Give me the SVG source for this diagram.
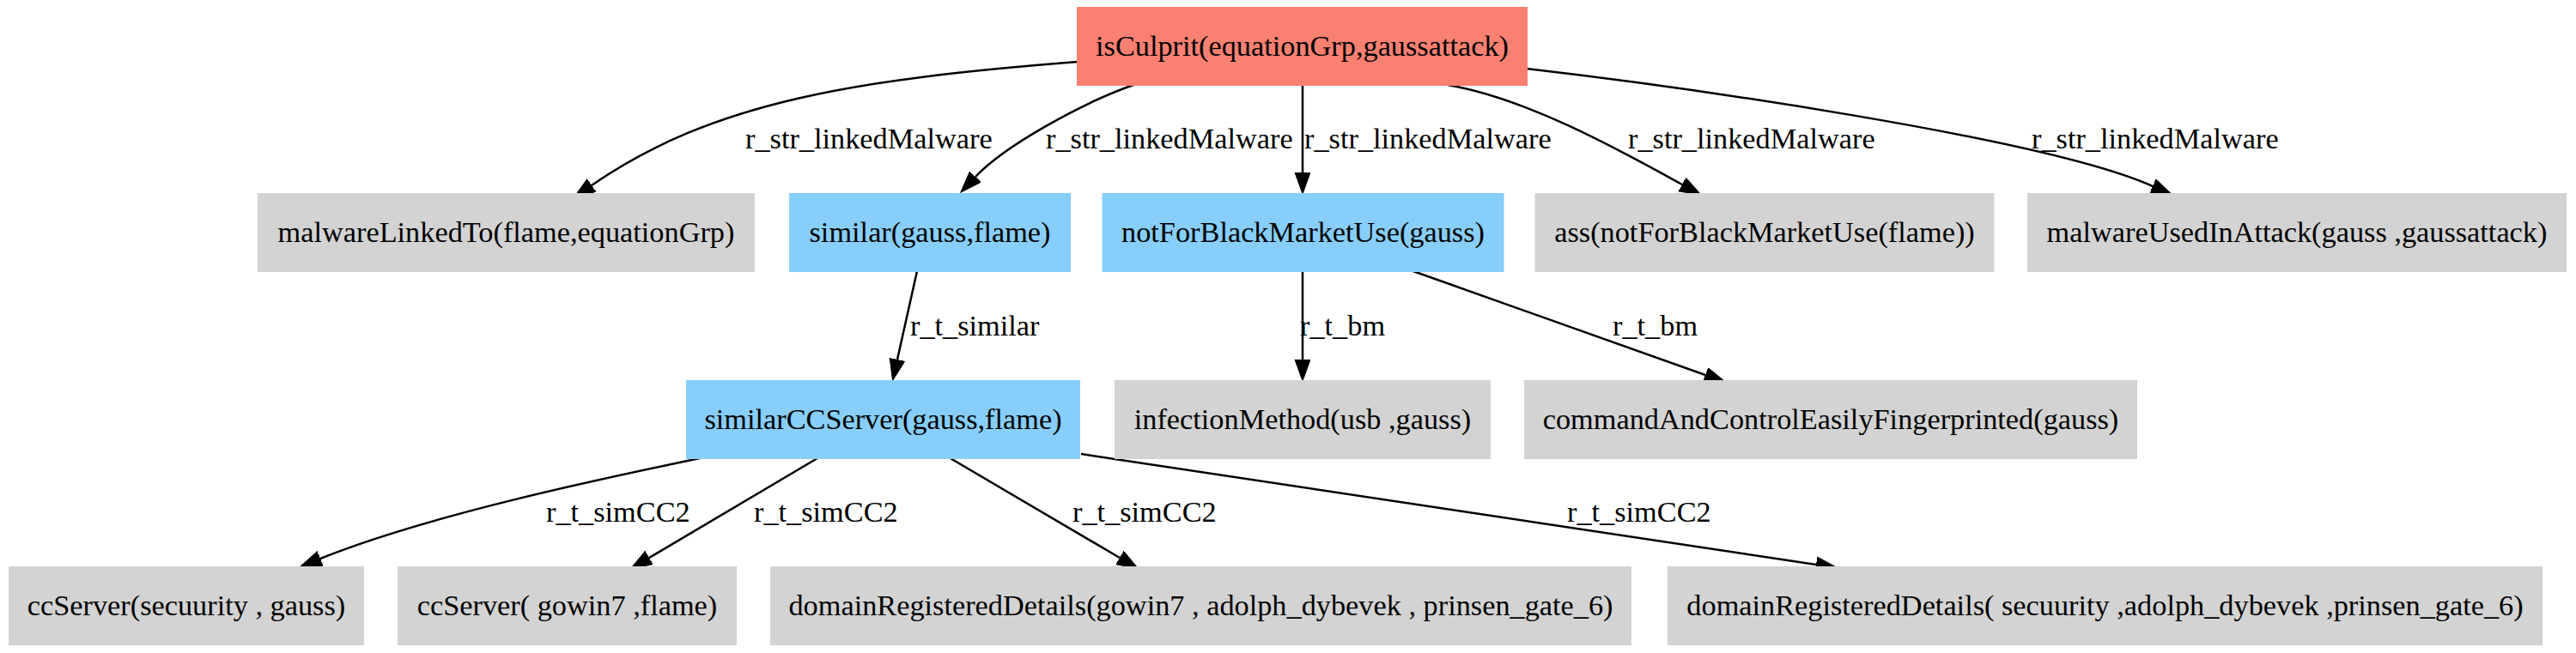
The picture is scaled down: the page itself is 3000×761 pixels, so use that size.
<svg xmlns="http://www.w3.org/2000/svg" width="3000" height="761" viewBox="0 0 3000 761">
<style>
  text { font-family: "Liberation Serif", "Times New Roman", serif; font-size: 34.3px; fill: #000; }
  .n text { text-anchor: middle; }
  .red rect { fill: #fa8072; stroke: #fa8072; stroke-width: 2; }
  .blue rect { fill: #87cefa; stroke: #87cefa; stroke-width: 2; }
  .gray rect { fill: #d3d3d3; stroke: #d3d3d3; stroke-width: 2; }
  .e path { fill: none; stroke: #000; stroke-width: 2.5; marker-end: url(#arr); }
  .lbl text { text-anchor: start; }
</style>
<defs>
  <marker id="arr" markerUnits="userSpaceOnUse" markerWidth="26" markerHeight="20" refX="0" refY="9" orient="auto">
    <path d="M0,0 L25,9 L0,18 Z" fill="#000" stroke="#000" stroke-width="1"/>
  </marker>
</defs>
<rect width="3000" height="761" fill="#fff"/>

<g id="connectors" class="e">
  <path d="M1255,72 C1000,92 830,118 689,216"/>
  <path d="M1320,99 C1260,120 1170,170 1136,206"/>
  <path d="M1517,99 L1517,201"/>
  <path d="M1686,99 C1780,115 1890,177 1959,215"/>
  <path d="M1778,80 C1950,100 2380,160 2507,217"/>
  <path d="M1068,316 L1045,419"/>
  <path d="M1517,316 L1517,419"/>
  <path d="M1643,315 L1986,437"/>
  <path d="M815,534 C700,558 500,600 373,651"/>
  <path d="M952,534 L756,650"/>
  <path d="M1105,533 L1304,650"/>
  <path d="M1259,529 L2115,658"/>
</g>

<g id="edge-labels" class="lbl">
  <text x="868" y="173">r_str_linkedMalware</text>
  <text x="1218" y="173">r_str_linkedMalware</text>
  <text x="1519" y="173">r_str_linkedMalware</text>
  <text x="1896" y="173">r_str_linkedMalware</text>
  <text x="2366" y="173">r_str_linkedMalware</text>
  <text x="1060" y="391">r_t_similar</text>
  <text x="1514" y="391">r_t_bm</text>
  <text x="1878" y="391">r_t_bm</text>
  <text x="636" y="608">r_t_simCC2</text>
  <text x="878" y="608">r_t_simCC2</text>
  <text x="1249" y="608">r_t_simCC2</text>
  <text x="1825" y="608">r_t_simCC2</text>
</g>

<g id="n_isCulprit" class="n red"><rect x="1255" y="9" width="523" height="90"/><text x="1516.5" y="65">isCulprit(equationGrp,gaussattack)</text></g>

<g id="n_malwareLinkedTo" class="n gray"><rect x="301" y="226" width="577" height="90"/><text x="589.5" y="282">malwareLinkedTo(flame,equationGrp)</text></g>
<g id="n_similar" class="n blue"><rect x="920" y="226" width="326" height="90"/><text x="1083" y="282">similar(gauss,flame)</text></g>
<g id="n_notForBlackMarketUse" class="n blue"><rect x="1284.5" y="226" width="466" height="90"/><text x="1517.5" y="282">notForBlackMarketUse(gauss)</text></g>
<g id="n_ass" class="n gray"><rect x="1788.5" y="226" width="533" height="90"/><text x="2055" y="282">ass(notForBlackMarketUse(flame))</text></g>
<g id="n_malwareUsedInAttack" class="n gray"><rect x="2362" y="226" width="626" height="90"/><text x="2675" y="282">malwareUsedInAttack(gauss ,gaussattack)</text></g>

<g id="n_similarCCServer" class="n blue"><rect x="800" y="444" width="457" height="90"/><text x="1028.5" y="500">similarCCServer(gauss,flame)</text></g>
<g id="n_infectionMethod" class="n gray"><rect x="1299" y="444" width="436" height="90"/><text x="1517" y="500">infectionMethod(usb ,gauss)</text></g>
<g id="n_commandAndControl" class="n gray"><rect x="1776" y="444" width="712" height="90"/><text x="2132" y="500">commandAndControlEasilyFingerprinted(gauss)</text></g>

<g id="n_ccServer1" class="n gray"><rect x="11" y="661" width="412" height="90"/><text x="217" y="717">ccServer(secuurity , gauss)</text></g>
<g id="n_ccServer2" class="n gray"><rect x="464" y="661" width="393" height="90"/><text x="660.5" y="717">ccServer( gowin7 ,flame)</text></g>
<g id="n_domainReg1" class="n gray"><rect x="898" y="661" width="1001" height="90"/><text x="1398.5" y="717">domainRegisteredDetails(gowin7 , adolph_dybevek , prinsen_gate_6)</text></g>
<g id="n_domainReg2" class="n gray"><rect x="1943" y="661" width="1017" height="90"/><text x="2451.5" y="717">domainRegisteredDetails( secuurity ,adolph_dybevek ,prinsen_gate_6)</text></g>
</svg>
